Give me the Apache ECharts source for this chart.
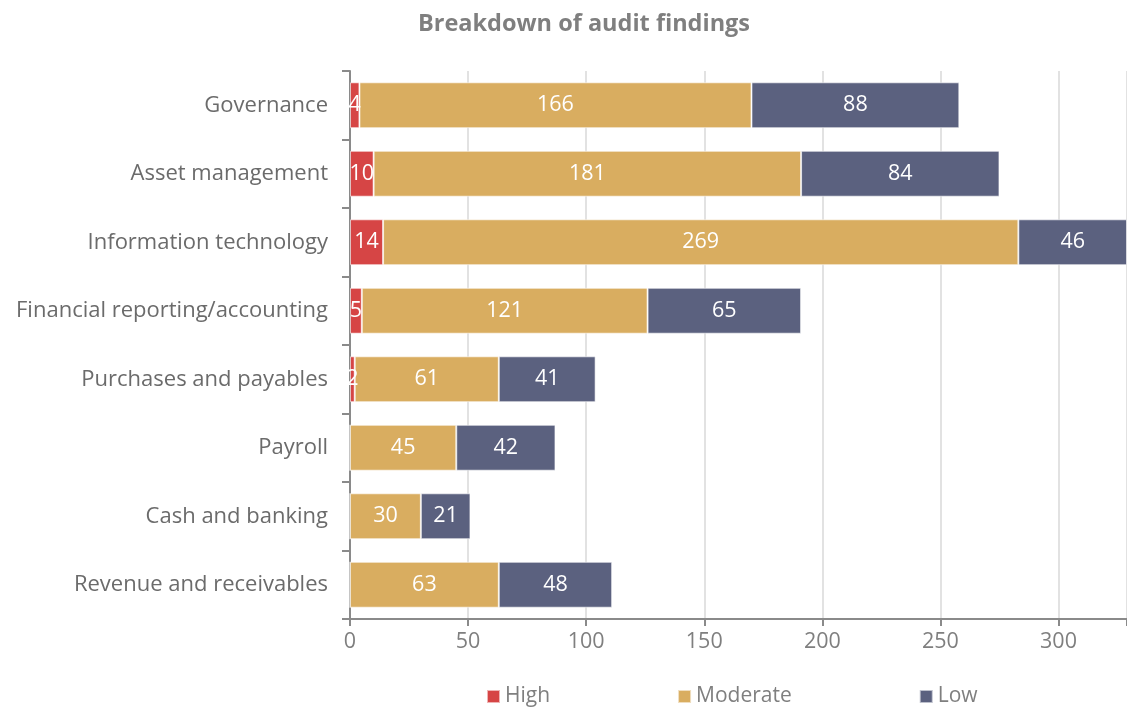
<!DOCTYPE html>
<html><head><meta charset="utf-8">
<script src="https://cdn.jsdelivr.net/npm/echarts@6/dist/echarts.min.js"></script>
<style>html,body{margin:0;padding:0;background:#fff}#c{width:1127px;height:709px}</style>
</head><body><div id="c"></div>
<script>
const categories = ["Governance","Asset management","Information technology","Financial reporting/accounting","Purchases and payables","Payroll","Cash and banking","Revenue and receivables"];
const high = [4,10,14,5,2,0,0,0];
const moderate = [166,181,269,121,61,45,30,63];
const low = [88,84,46,65,41,42,21,48];
const xTicks = [0,50,100,150,200,250,300];

const FONT = "Open Sans";
const chart = echarts.init(document.getElementById('c'));
function lbl(){return {show:true,color:'#fff',fontSize:21.5,fontFamily:FONT,formatter:p=>p.value?p.value:''};}
function ser(name,data,color){
  return {name,type:'bar',stack:'a',data,barCategoryGap:'33%',
    itemStyle:{color,borderColor:'rgba(255,255,255,0.6)',borderWidth:1},
    label:lbl(),emphasis:{disabled:true}};
}
chart.setOption({
  animation:false,
  title:{text:'Breakdown of audit findings',left:579,top:7,textAlign:'center',
    textStyle:{color:'#7f7f7f',fontSize:23.5,fontWeight:'bold',fontFamily:FONT}},
  legend:{top:681,left:481,itemWidth:13,itemHeight:13,itemGap:127,icon:'rect',
    textStyle:{color:'#7f7f7f',fontSize:21,fontFamily:FONT,padding:[0,0,0,0]},
    data:['High','Moderate','Low']},
  grid:{left:350,right:0,top:71,bottom:90,containLabel:false},
  xAxis:{type:'value',min:0,max:329,interval:50,
    axisLine:{show:true,lineStyle:{color:'#8a8a8a',width:2}},
    axisTick:{show:true,length:7,lineStyle:{color:'#8a8a8a',width:2}},
    axisLabel:{color:'#7f7f7f',fontSize:21.5,fontFamily:FONT,margin:12,
      customValues:xTicks, formatter:v=>xTicks.includes(v)?v:''},
    splitLine:{show:true,lineStyle:{color:'#d9d9d9',width:1.5}}},
  yAxis:{type:'category',data:categories,inverse:true,
    axisLine:{show:true,lineStyle:{color:'#8a8a8a',width:2}},
    axisTick:{show:true,length:8,lineStyle:{color:'#8a8a8a',width:2}},
    axisLabel:{color:'#6b6b6b',fontSize:22,fontFamily:FONT,margin:22}},
  series:[ser('High',high,'#d64545'),ser('Moderate',moderate,'#d9ad60'),ser('Low',low,'#5b617f')]
});
</script></body></html>
